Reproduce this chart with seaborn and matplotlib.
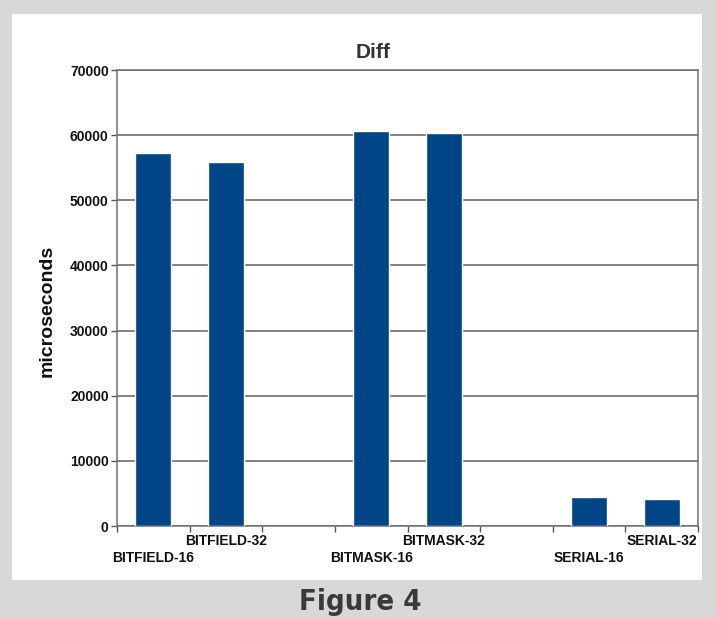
import matplotlib
matplotlib.use("Agg")
import matplotlib.pyplot as plt
from matplotlib.patches import Rectangle
from matplotlib.ticker import FixedLocator
import seaborn as sns
import pandas as pd

# Benchmark results (microseconds)
categories = ["BITFIELD-16", "BITFIELD-32", "BITMASK-16", "BITMASK-32", "SERIAL-16", "SERIAL-32"]
values = [57300, 55900, 60700, 60400, 4500, 4200]
# Slot order with blank slots separating the three groups
slot_order = ["BITFIELD-16", "BITFIELD-32", "gap-a", "BITMASK-16", "BITMASK-32", "gap-b", "SERIAL-16", "SERIAL-32"]
yticks = [0, 10000, 20000, 30000, 40000, 50000, 60000, 70000]

df = pd.DataFrame({"test": categories, "us": values})

sns.set_theme(style="white")
plt.rcParams["font.family"] = ["Liberation Sans", "DejaVu Sans"]

W, H = 715, 618
fig = plt.figure(figsize=(W / 100, H / 100), dpi=100)
fig.patch.set_facecolor("#d8d8d8")

# white card behind the chart
card = Rectangle((12 / W, 1 - 580 / H), (702 - 12) / W, (580 - 14) / H,
                 transform=fig.transFigure, facecolor="white",
                 edgecolor="none", zorder=-10)
fig.add_artist(card)

ax = fig.add_axes([117 / W, 1 - 526 / H, (698 - 117) / W, (526 - 70) / H])
ax.set_zorder(1)
ax.set_facecolor("white")

sns.barplot(data=df, x="test", y="us", order=slot_order, color="#004586",
            saturation=1, width=0.5, ax=ax, zorder=3)

ax.set_xlim(-0.5, len(slot_order) - 0.5)
ax.set_ylim(yticks[0], yticks[-1])
ax.set_yticks(yticks)
ax.yaxis.grid(True, color="#606060", linewidth=1.1, zorder=1)
ax.set_axisbelow(True)
for s in ax.spines.values():
    s.set_color("#707070")
    s.set_linewidth(1.1)

ax.set_xlabel("")
ax.set_ylabel("")

# category labels in two staggered rows; tick marks at slot boundaries
labels = [c if c in categories else "" for c in slot_order]
ax.set_xticks(range(len(slot_order)))
ax.set_xticklabels(labels, fontsize=10, fontweight="bold", color="#111111")
ax.tick_params(axis="x", which="major", length=0)
ax.xaxis.set_minor_locator(FixedLocator([i - 0.5 for i in range(len(slot_order) + 1)]))
ax.tick_params(axis="x", which="minor", length=4, width=1, color="#555555",
               direction="out", bottom=True)
for name, t in zip(slot_order, ax.xaxis.get_major_ticks()):
    if name in categories:
        t.set_pad(18 if categories.index(name) % 2 == 0 else 6)

ax.tick_params(axis="y", length=4, width=1, color="#555555", direction="out",
               left=True, pad=2, labelsize=10)
for lab in ax.get_yticklabels():
    lab.set_fontweight("bold")
    lab.set_color("#111111")

fig.text(373 / W, 1 - 52 / H, "Diff", ha="center", va="center",
         fontsize=15, fontweight="bold", color="#333333")
fig.text(47 / W, 1 - 311 / H, "microseconds", ha="center", va="center",
         rotation=90, fontsize=14, fontweight="bold", color="#111111")
fig.text(360 / W, 1 - 602 / H, "Figure 4", ha="center", va="center",
         fontsize=21, fontweight="heavy", fontstretch="condensed",
         family=["DejaVu Sans"], color="#3a3a3a")

fig.savefig("out.png", dpi=100, facecolor=fig.get_facecolor())
